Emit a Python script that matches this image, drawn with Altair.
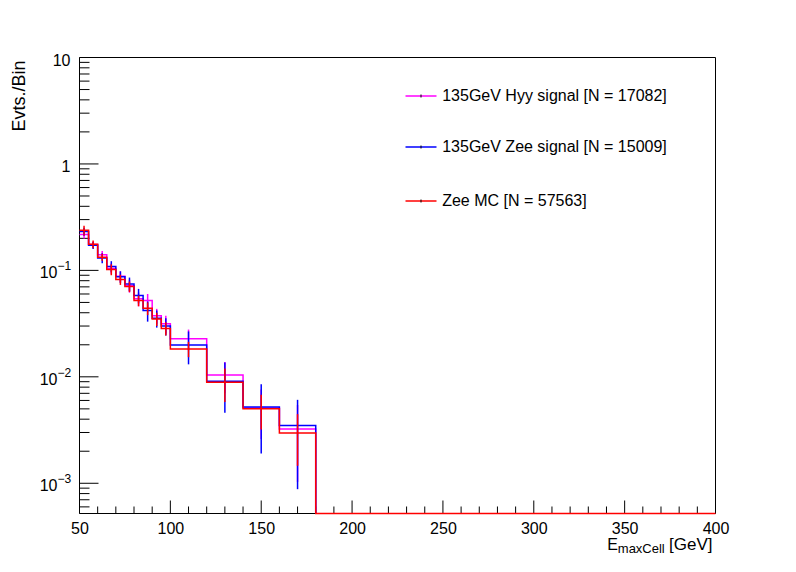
import altair as alt
import pandas as pd

# ---------------- data ----------------
edges = [50, 55, 60, 65, 70, 75, 80, 85, 90, 95, 100, 120, 140, 160, 180,
         200, 220, 240, 260, 280, 300, 320, 340, 360, 380, 400]

names = ["135GeV Hyy signal [N = 17082]",
         "135GeV Zee signal [N = 15009]",
         "Zee MC [N = 57563]"]
colors = ["#ff00ff", "#0000ff", "#ff0000"]

hyy = [0.217, 0.175, 0.140, 0.104, 0.088, 0.0718, 0.054, 0.052, 0.0375, 0.0315,
       0.0228, 0.0104, 0.0051, 0.00323, 0, 0, 0, 0, 0, 0, 0, 0, 0, 0, 0]
hyy_err = [0.018, 0.012, 0.012, 0.012, 0.010, 0.010, 0.008, 0.008, 0.006, 0.006,
           0.005, 0.0034, 0.0025, 0.0022, 0, 0, 0, 0, 0, 0, 0, 0, 0, 0, 0]

zsig = [0.232, 0.172, 0.131, 0.109, 0.087, 0.0746, 0.058, 0.042, 0.0355, 0.030,
        0.0199, 0.0091, 0.0052, 0.00348, 0, 0, 0, 0, 0, 0, 0, 0, 0, 0, 0]
zsig_err = [0.020, 0.013, 0.014, 0.013, 0.011, 0.011, 0.009, 0.009, 0.0065, 0.0055,
            0.0068, 0.0045, 0.0033, 0.0026, 0, 0, 0, 0, 0, 0, 0, 0, 0, 0, 0]

zmc = [0.238, 0.176, 0.133, 0.102, 0.082, 0.0705, 0.052, 0.044, 0.035, 0.0285,
       0.0183, 0.0089, 0.0050, 0.00296, 0, 0, 0, 0, 0, 0, 0, 0, 0, 0, 0]
zmc_err = [0.025, 0.015, 0.010, 0.012, 0.009, 0.008, 0.006, 0.006, 0.005, 0.004,
           0.003, 0.0031, 0.0018, 0.0015, 0, 0, 0, 0, 0, 0, 0, 0, 0, 0, 0]

x_major = [50, 100, 150, 200, 250, 300, 350, 400]
x_minor = [60, 70, 80, 90, 110, 120, 130, 140, 160, 170, 180, 190,
           210, 220, 230, 240, 260, 270, 280, 290, 310, 320, 330, 340,
           360, 370, 380, 390]
y_major = [0.001, 0.01, 0.1, 1, 10]
y_minor = [m * 10.0 ** e for e in range(-4, 1) for m in range(2, 10)
           if 5.2e-4 < m * 10.0 ** e < 10]
y_plain_labels = ["10", "1"]
y_plain_values = [10, 1]
y_exp_labels = ["\u22121", "\u22122", "\u22123"]
y_exp_values = [0.1, 0.01, 0.001]

# ---------------- layout ----------------
YMIN, YMAX = 5.2e-4, 10
W, H = 636, 456
FONT = "Liberation Sans"
LW = 1.5

xscale = alt.Scale(domain=[50, 400], nice=False, zero=False)
yscale = alt.Scale(type="log", domain=[YMIN, YMAX], nice=False, clamp=True)
xaxis = alt.Axis(values=x_major, ticks=False, tickSize=0, domain=False, grid=False,
                 labelFontSize=16, labelFont=FONT, labelColor="black",
                 labelPadding=7, labelFlush=False, labelOverlap=False, title=None)


def X(field):
    return alt.X(f"{field}:Q", scale=xscale, axis=xaxis)


def Y(field):
    return alt.Y(f"{field}:Q", scale=yscale, axis=None)


series_vals = [hyy, zsig, zmc]
series_errs = [hyy_err, zsig_err, zmc_err]
rows_line, rows_err = [], []
for k, (name, vals, errs) in enumerate(zip(names, series_vals, series_errs)):
    top = (k == len(names) - 1)  # only the top-most series shows its empty tail
    seen_zero = False
    for i, v in enumerate(vals):
        if not top and seen_zero:
            break
        rows_line.append({"series": name, "x": edges[i], "v": v})
        if v == 0:
            seen_zero = True
        if errs[i] > 0:
            rows_err.append({"series": name, "x": (edges[i] + edges[i + 1]) / 2,
                             "lo": v - errs[i], "hi": v + errs[i]})
    if top or not seen_zero:
        rows_line.append({"series": name, "x": edges[-1], "v": vals[-1]})
df_line = pd.DataFrame(rows_line)
df_err = pd.DataFrame(rows_err)

frame = pd.DataFrame({"t": ["frame"]})
layers = [
    alt.Chart(frame).mark_rule(color="black", strokeWidth=1)
    .encode(x=alt.value(0), x2=alt.value(W), y=alt.value(0)),
    alt.Chart(frame).mark_rule(color="black", strokeWidth=1)
    .encode(x=alt.value(0), x2=alt.value(W), y=alt.value(H)),
    alt.Chart(frame).mark_rule(color="black", strokeWidth=1)
    .encode(x=alt.value(0), y=alt.value(0), y2=alt.value(H)),
    alt.Chart(frame).mark_rule(color="black", strokeWidth=1)
    .encode(x=alt.value(W), y=alt.value(0), y2=alt.value(H)),
]

# ticks (inside the frame, ROOT style)
layers.append(alt.Chart(pd.DataFrame({"v": x_major})).mark_rule(color="black", strokeWidth=1)
              .encode(x=X("v"), y=alt.value(H), y2=alt.value(H - 13)))
layers.append(alt.Chart(pd.DataFrame({"v": x_minor})).mark_rule(color="black", strokeWidth=1)
              .encode(x=X("v"), y=alt.value(H), y2=alt.value(H - 7)))
layers.append(alt.Chart(pd.DataFrame({"v": y_major})).mark_rule(color="black", strokeWidth=1)
              .encode(y=Y("v"), x=alt.value(0), x2=alt.value(19)))
layers.append(alt.Chart(pd.DataFrame({"v": y_minor})).mark_rule(color="black", strokeWidth=1)
              .encode(y=Y("v"), x=alt.value(0), x2=alt.value(10)))

for name, col in zip(names, colors):
    layers.append(
        alt.Chart(df_line).transform_filter(alt.datum.series == name)
        .transform_calculate(vy=f"max(datum.v, {YMIN})")
        .mark_line(interpolate="step-after", strokeWidth=LW, color=col)
        .encode(x=X("x"), y=Y("vy"), order="x:Q")
    )
    layers.append(
        alt.Chart(df_err).transform_filter(alt.datum.series == name)
        .mark_rule(strokeWidth=LW, color=col)
        .encode(x=X("x"), y=Y("lo"), y2="hi:Q")
    )

# y labels
layers.append(alt.Chart(pd.DataFrame({"v": y_plain_values, "t": y_plain_labels}))
              .mark_text(align="right", baseline="middle", fontSize=16, font=FONT, color="black", dy=3)
              .encode(y=Y("v"), x=alt.value(-9), text="t:N"))
layers.append(alt.Chart(pd.DataFrame({"v": y_exp_values, "t": ["10"] * 3}))
              .mark_text(align="right", baseline="middle", fontSize=16, font=FONT, color="black", dy=3)
              .encode(y=Y("v"), x=alt.value(-22), text="t:N"))
layers.append(alt.Chart(pd.DataFrame({"v": y_exp_values, "t": y_exp_labels}))
              .mark_text(align="left", baseline="middle", fontSize=12, font=FONT, color="black", dy=-4)
              .encode(y=Y("v"), x=alt.value(-22), text="t:N"))

# axis titles
layers.append(alt.Chart(pd.DataFrame({"t": ["Evts./Bin"]}))
              .mark_text(align="right", baseline="alphabetic", angle=270, fontSize=18, font=FONT, color="black")
              .encode(x=alt.value(-55), y=alt.value(3), text="t:N"))
layers.append(alt.Chart(pd.DataFrame({"t": ["E"]}))
              .mark_text(align="left", baseline="alphabetic", fontSize=16, font=FONT, color="black")
              .encode(x=alt.value(527.7), y=alt.value(492), text="t:N"))
layers.append(alt.Chart(pd.DataFrame({"t": ["maxCell"]}))
              .mark_text(align="left", baseline="alphabetic", fontSize=13, font=FONT, color="black")
              .encode(x=alt.value(538.3), y=alt.value(495.5), text="t:N"))
layers.append(alt.Chart(pd.DataFrame({"t": ["[GeV]"]}))
              .mark_text(align="left", baseline="alphabetic", fontSize=17, font=FONT, color="black")
              .encode(x=alt.value(589.5), y=alt.value(492), text="t:N"))

# legend
LEG_Y = [38.5, 89.5, 143.5]
for name, col, ly in zip(names, colors, LEG_Y):
    d = pd.DataFrame({"t": [name]})
    layers.append(alt.Chart(d).mark_rule(color=col, strokeWidth=LW)
                  .encode(x=alt.value(326), x2=alt.value(357), y=alt.value(ly)))
    layers.append(alt.Chart(d).mark_rule(color="black", strokeWidth=1)
                  .encode(x=alt.value(341.5), y=alt.value(ly - 1.5), y2=alt.value(ly + 1.5)))
    layers.append(alt.Chart(d).mark_text(align="left", baseline="middle", fontSize=16, font=FONT, color="black")
                  .encode(x=alt.value(362.7), y=alt.value(ly), text="t:N"))

chart = (
    alt.layer(*layers)
    .properties(width=W, height=H, autosize=alt.AutoSizeParams(type="none"),
                padding={"left": 71.5, "top": 49.5, "right": 60, "bottom": 50},
                background="white")
    .configure_view(strokeWidth=0, stroke="transparent")
)

chart.save("out.html", embed_options={"renderer": "svg", "actions": False})
